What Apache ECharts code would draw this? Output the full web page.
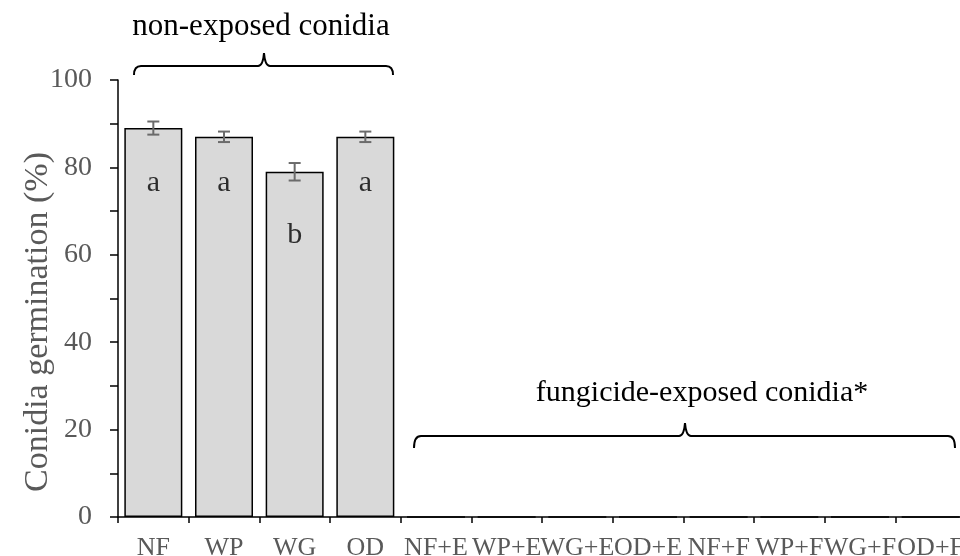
<!DOCTYPE html>
<html><head><meta charset="utf-8">
<script src="https://cdn.jsdelivr.net/npm/echarts@6/dist/echarts.min.js"></script>
<style>html,body{margin:0;padding:0;background:#fff}#c{width:960px;height:556px}</style>
</head><body><div id="c"></div>
<script>
const categories = ['NF','WP','WG','OD','NF+E','WP+E','WG+E','OD+E','NF+F','WP+F','WG+F','OD+F'];
const germination = [89, 87, 79, 87, 0, 0, 0, 0, 0, 0, 0, 0];
const errors = [1.5, 1.2, 2.0, 1.2, null, null, null, null, null, null, null, null];
const letters = ['a', 'a', 'b', 'a'];
const letterY = [76.3, 76.3, 64.5, 76.3];
const yTicks = [0, 20, 40, 60, 80, 100];
const yTitle = 'Conidia germination (%)';
const groupLabels = ['non-exposed conidia', 'fungicide-exposed conidia*'];

const FONT = '"Liberation Serif", "Times New Roman", serif';
const GRAY = '#595959';
const chart = echarts.init(document.getElementById('c'), null, {renderer: 'canvas'});

const errData = [];
germination.forEach((v, i) => { if (errors[i] != null) errData.push([i, v - errors[i], v + errors[i]]); });
const letterData = letters.map((l, i) => ({value: [i, letterY[i]], name: l}));

function brace(x1, x2, xm, yEnd, yLine, yTip) {
  const s = {stroke: '#000', lineWidth: 2, fill: null};
  const r = 7;
  return {type: 'group', children: [
    {type: 'bezierCurve', shape: {x1: x1, y1: yEnd, x2: x1 + r, y2: yLine, cpx1: x1, cpy1: yLine}, style: s},
    {type: 'line', shape: {x1: x1 + r, y1: yLine, x2: xm - 6, y2: yLine}, style: s},
    {type: 'bezierCurve', shape: {x1: xm - 6, y1: yLine, x2: xm, y2: yTip, cpx1: xm - 1, cpy1: yLine}, style: s},
    {type: 'bezierCurve', shape: {x1: xm, y1: yTip, x2: xm + 6, y2: yLine, cpx1: xm + 1, cpy1: yLine}, style: s},
    {type: 'line', shape: {x1: xm + 6, y1: yLine, x2: x2 - r, y2: yLine}, style: s},
    {type: 'bezierCurve', shape: {x1: x2 - r, y1: yLine, x2: x2, y2: yEnd, cpx1: x2, cpy1: yLine}, style: s}
  ]};
}

chart.setOption({
  animation: false,
  grid: {left: 118, right: -6, top: 80, bottom: 39, containLabel: false, outerBoundsMode: 'none'},
  xAxis: {
    type: 'category', data: categories,
    axisLine: {lineStyle: {color: '#000', width: 1.5}},
    axisTick: {show: true, length: 6, lineStyle: {color: '#000', width: 1.5}, alignWithLabel: false},
    axisLabel: {interval: 0, margin: 18, color: GRAY, fontFamily: FONT, fontSize: 26, hideOverlap: false}
  },
  yAxis: {
    type: 'value', min: 0, max: 100, interval: 10,
    axisLine: {show: true, lineStyle: {color: '#000', width: 1.5}},
    axisTick: {show: true, length: 8, lineStyle: {color: '#000', width: 1.5}},
    splitLine: {show: false},
    axisLabel: {margin: 26, color: GRAY, fontFamily: FONT, fontSize: 28,
      formatter: v => yTicks.indexOf(v) >= 0 ? String(v) : ''}
  },
  series: [
    {
      type: 'bar', data: germination, barWidth: 58,
      itemStyle: {color: '#d9d9d9', borderColor: '#000', borderWidth: 1.5}
    },
    {
      type: 'custom', data: errData, z: 5,
      renderItem: function (params, api) {
        const x = api.coord([api.value(0), api.value(1)])[0];
        const lo = api.coord([api.value(0), api.value(1)])[1];
        const hi = api.coord([api.value(0), api.value(2)])[1];
        const w = 6;
        const style = {stroke: '#6b6b6b', lineWidth: 2};
        return {type: 'group', children: [
          {type: 'line', shape: {x1: x, y1: lo, x2: x, y2: hi}, style},
          {type: 'line', shape: {x1: x - w, y1: lo, x2: x + w, y2: lo}, style},
          {type: 'line', shape: {x1: x - w, y1: hi, x2: x + w, y2: hi}, style}
        ]};
      }
    },
    {
      type: 'scatter', data: letterData, symbolSize: 0, z: 6,
      label: {show: true, position: 'inside', formatter: p => p.name,
        color: '#000', fontFamily: FONT, fontSize: 30}
    }
  ],
  graphic: [
    {type: 'text', x: 38, y: 322, rotation: Math.PI / 2,
      style: {text: yTitle, fill: GRAY, font: '34px ' + FONT, textAlign: 'center', textVerticalAlign: 'middle'}},
    {type: 'text', style: {x: 261, y: 27, text: groupLabels[0], fill: '#000', font: '31px ' + FONT, textAlign: 'center', textVerticalAlign: 'middle'}},
    {type: 'text', style: {x: 702, y: 393, text: groupLabels[1], fill: '#000', font: '30px ' + FONT, textAlign: 'center', textVerticalAlign: 'middle'}},
    brace(134, 393, 264, 75, 66, 53),
    brace(414, 955, 685, 448, 436, 423)
  ]
});
</script></body></html>
